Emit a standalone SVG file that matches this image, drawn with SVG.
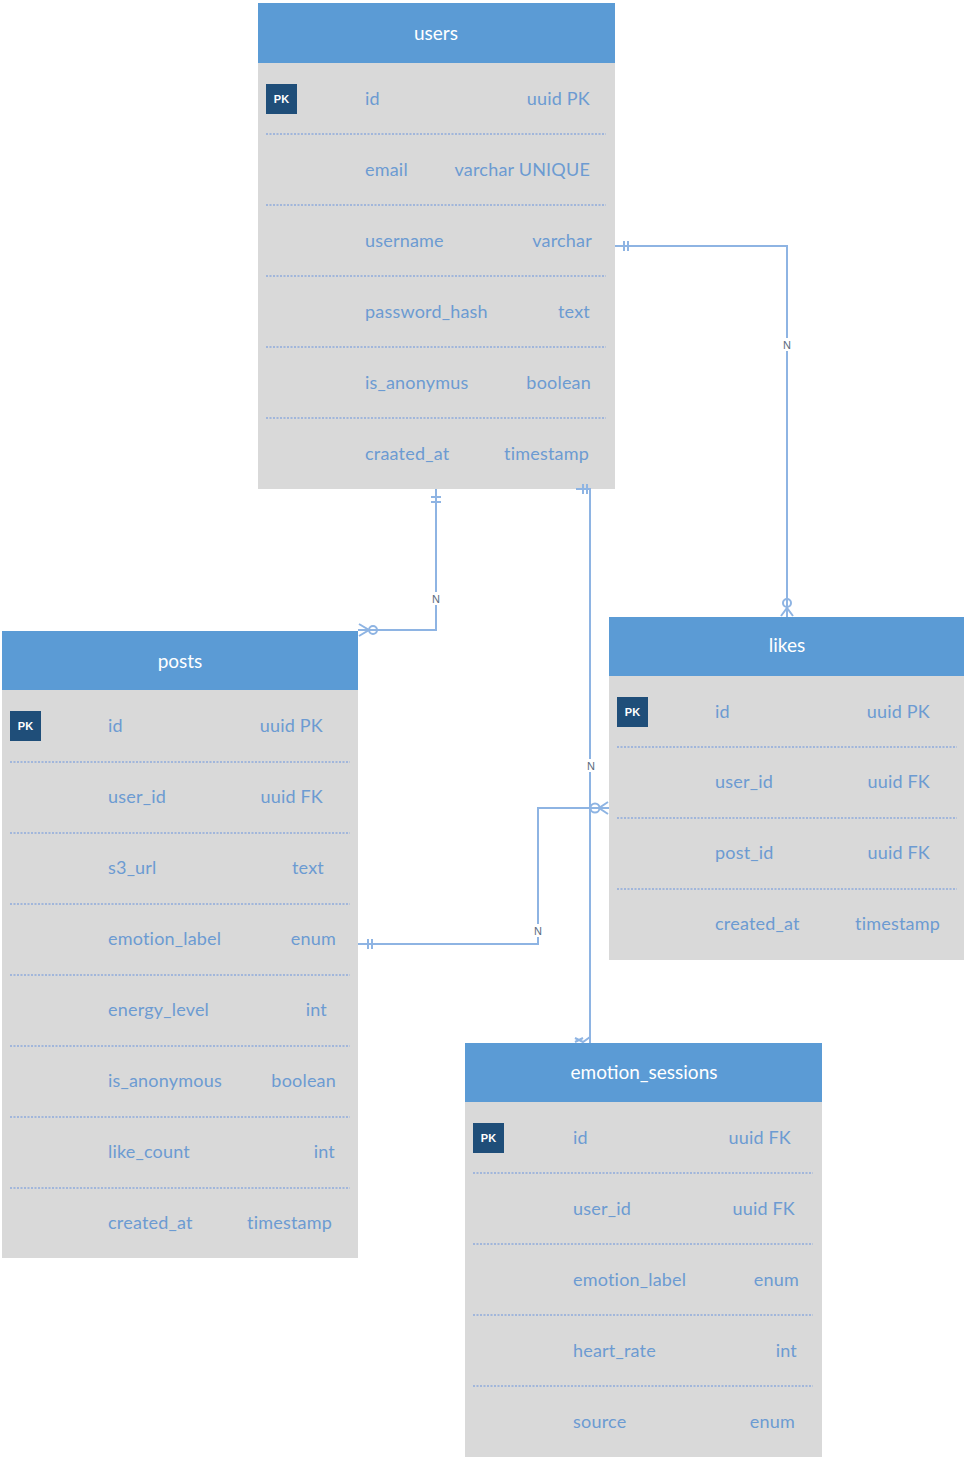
<svg xmlns="http://www.w3.org/2000/svg" width="964" height="1457" viewBox="0 0 964 1457">
<style>
.hd{fill:#5b9bd5}
.bd{fill:#d9d9d9}
.ht{font-family:Lato,"Liberation Sans",sans-serif;font-size:19px;fill:#ffffff;text-anchor:middle}
.t{font-family:Lato,"Liberation Sans",sans-serif;font-size:18px;letter-spacing:0.2px;fill:#6c9bd2}
.r{text-anchor:end}
.sep{stroke:#8eaadb;stroke-width:1.5;stroke-dasharray:2 1.5}
.pk{fill:#1f4e79}
.pkt{font-family:"Liberation Sans",sans-serif;font-size:11px;font-weight:bold;fill:#ffffff;text-anchor:middle}
.c{fill:none;stroke:#8eb4e3;stroke-width:2}
.n{font-family:"Liberation Sans",sans-serif;font-size:11px;fill:#5a6b80;text-anchor:middle}
</style>
<rect width="964" height="1457" fill="#ffffff"/>

<g id="users">
<rect class="bd" x="258" y="3" width="357" height="486"/>
<rect class="hd" x="258" y="3" width="357" height="60"/>
<text class="ht" x="436" y="40">users</text>
<rect class="pk" x="266" y="84" width="31" height="30"/><text class="pkt" x="281.5" y="103">PK</text>
<text class="t" x="365" y="105">id</text><text class="t r" x="590" y="105">uuid PK</text>
<line class="sep" x1="266" y1="134" x2="606" y2="134"/>
<text class="t" x="365" y="176">email</text><text class="t r" x="590" y="176">varchar UNIQUE</text>
<line class="sep" x1="266" y1="205" x2="606" y2="205"/>
<text class="t" x="365" y="247">username</text><text class="t r" x="592" y="247">varchar</text>
<line class="sep" x1="266" y1="276" x2="606" y2="276"/>
<text class="t" x="365" y="318">password_hash</text><text class="t r" x="590" y="318">text</text>
<line class="sep" x1="266" y1="347" x2="606" y2="347"/>
<text class="t" x="365" y="389">is_anonymus</text><text class="t r" x="591" y="389">boolean</text>
<line class="sep" x1="266" y1="418" x2="606" y2="418"/>
<text class="t" x="365" y="460">craated_at</text><text class="t r" x="589" y="460">timestamp</text>
</g>

<g id="posts">
<rect class="bd" x="2" y="631" width="356" height="627"/>
<rect class="hd" x="2" y="631" width="356" height="59"/>
<text class="ht" x="180" y="668">posts</text>
<rect class="pk" x="10" y="711" width="31" height="30"/><text class="pkt" x="25.5" y="730">PK</text>
<text class="t" x="108" y="732">id</text><text class="t r" x="323" y="732">uuid PK</text>
<line class="sep" x1="10" y1="762" x2="350" y2="762"/>
<text class="t" x="108" y="803">user_id</text><text class="t r" x="323" y="803">uuid FK</text>
<line class="sep" x1="10" y1="833" x2="350" y2="833"/>
<text class="t" x="108" y="874">s3_url</text><text class="t r" x="324" y="874">text</text>
<line class="sep" x1="10" y1="904" x2="350" y2="904"/>
<text class="t" x="108" y="945">emotion_label</text><text class="t r" x="336" y="945">enum</text>
<line class="sep" x1="10" y1="975" x2="350" y2="975"/>
<text class="t" x="108" y="1016">energy_level</text><text class="t r" x="327" y="1016">int</text>
<line class="sep" x1="10" y1="1046" x2="350" y2="1046"/>
<text class="t" x="108" y="1087">is_anonymous</text><text class="t r" x="336" y="1087">boolean</text>
<line class="sep" x1="10" y1="1117" x2="350" y2="1117"/>
<text class="t" x="108" y="1158">like_count</text><text class="t r" x="335" y="1158">int</text>
<line class="sep" x1="10" y1="1188" x2="350" y2="1188"/>
<text class="t" x="108" y="1229">created_at</text><text class="t r" x="332" y="1229">timestamp</text>
</g>

<g id="likes">
<rect class="bd" x="609" y="617" width="355" height="343"/>
<rect class="hd" x="609" y="617" width="355" height="59"/>
<text class="ht" x="787" y="652">likes</text>
<rect class="pk" x="617" y="697" width="31" height="30"/><text class="pkt" x="632.5" y="716">PK</text>
<text class="t" x="715" y="718">id</text><text class="t r" x="930" y="718">uuid PK</text>
<line class="sep" x1="617" y1="747" x2="957" y2="747"/>
<text class="t" x="715" y="788">user_id</text><text class="t r" x="930" y="788">uuid FK</text>
<line class="sep" x1="617" y1="818" x2="957" y2="818"/>
<text class="t" x="715" y="859">post_id</text><text class="t r" x="930" y="859">uuid FK</text>
<line class="sep" x1="617" y1="889" x2="957" y2="889"/>
<text class="t" x="715" y="930">created_at</text><text class="t r" x="940" y="930">timestamp</text>
</g>

<g id="emotion_sessions">
<rect class="bd" x="465" y="1043" width="357" height="414"/>
<rect class="hd" x="465" y="1043" width="357" height="59"/>
<text class="ht" x="644" y="1079">emotion_sessions</text>
<rect class="pk" x="473" y="1123" width="31" height="30"/><text class="pkt" x="488.5" y="1142">PK</text>
<text class="t" x="573" y="1144">id</text><text class="t r" x="791" y="1144">uuid FK</text>
<line class="sep" x1="473" y1="1173" x2="813" y2="1173"/>
<text class="t" x="573" y="1215">user_id</text><text class="t r" x="795" y="1215">uuid FK</text>
<line class="sep" x1="473" y1="1244" x2="813" y2="1244"/>
<text class="t" x="573" y="1286">emotion_label</text><text class="t r" x="799" y="1286">enum</text>
<line class="sep" x1="473" y1="1315" x2="813" y2="1315"/>
<text class="t" x="573" y="1357">heart_rate</text><text class="t r" x="797" y="1357">int</text>
<line class="sep" x1="473" y1="1386" x2="813" y2="1386"/>
<text class="t" x="573" y="1428">source</text><text class="t r" x="795" y="1428">enum</text>
</g>

<g id="connectors">
<!-- users -> posts -->
<polyline class="c" points="436,489 436,630 358,630"/>
<line class="c" x1="431" y1="497" x2="441" y2="497"/>
<line class="c" x1="431" y1="502" x2="441" y2="502"/>
<rect x="430" y="592" width="12" height="13" fill="#ffffff"/>
<text class="n" x="436" y="603">N</text>
<circle class="c" cx="373" cy="630" r="4" fill="#ffffff"/>
<polyline class="c" points="359,624 369,630 359,636"/>

<!-- users -> likes -->
<polyline class="c" points="615,246 787,246 787,617"/>
<line class="c" x1="624" y1="241" x2="624" y2="251"/>
<line class="c" x1="628" y1="241" x2="628" y2="251"/>
<rect x="781" y="338" width="12" height="13" fill="#ffffff"/>
<text class="n" x="787" y="349">N</text>
<circle class="c" cx="787" cy="603" r="4" fill="#ffffff"/>
<polyline class="c" points="781,616 787,608 793,616"/>

<!-- users -> emotion_sessions -->
<polyline class="c" points="576,489 590,489 590,1043"/>
<line class="c" x1="583" y1="484" x2="583" y2="494"/>
<line class="c" x1="587" y1="484" x2="587" y2="494"/>
<rect x="585" y="759" width="12" height="13" fill="#ffffff"/>
<text class="n" x="591" y="770">N</text>
<polyline class="c" points="575,1038 583,1042 590,1037"/>
<polyline class="c" points="575,1042 583,1038"/>

<!-- posts -> likes -->
<polyline class="c" points="358,944 538,944 538,808 609,808"/>
<line class="c" x1="368" y1="939" x2="368" y2="949"/>
<line class="c" x1="372" y1="939" x2="372" y2="949"/>
<rect x="532" y="924" width="12" height="13" fill="#ffffff"/>
<text class="n" x="538" y="935">N</text>
<circle class="c" cx="595" cy="808" r="4.5" fill="none"/>
<polyline class="c" points="608,802 599,808 608,814"/>
</g>
</svg>
